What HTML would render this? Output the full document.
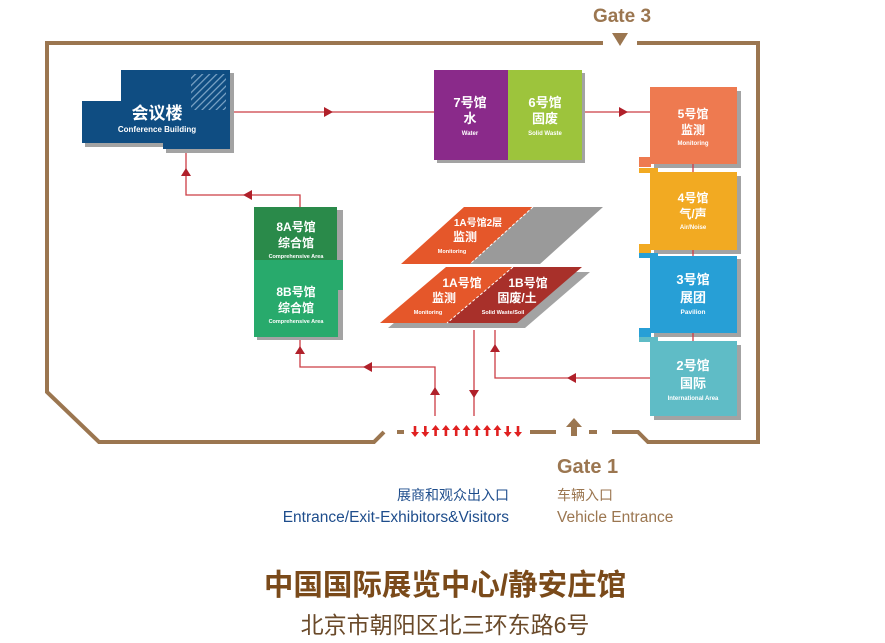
<!DOCTYPE html>
<html><head><meta charset="utf-8"><style>
html,body{margin:0;padding:0;background:#fff}
svg{display:block}
text{font-family:"Liberation Sans","Noto Sans CJK SC",sans-serif}
.w{fill:#fff;font-weight:bold;text-anchor:middle}
</style></head><body>
<svg width="885" height="643" viewBox="0 0 885 643" xmlns="http://www.w3.org/2000/svg">
<defs>
<pattern id="h" width="5" height="5" patternUnits="userSpaceOnUse" patternTransform="rotate(45)">
<rect width="1.2" height="5" fill="#7fa6c8"/></pattern>
<polygon id="up" points="0,-6 4,-1 1.3,-1 1.3,5 -1.3,5 -1.3,-1 -4,-1" fill="#e02020"/>
<polygon id="dn" points="0,6 4,1 1.3,1 1.3,-5 -1.3,-5 -1.3,1 -4,1" fill="#e02020"/>
</defs>
<g fill="none" stroke="#9b7650" stroke-width="4">
<polyline points="603,43 47,43 47,392 99,442 374,442 384,432"/>
<polyline points="637,43 758,43 758,442 648,442 638,432 612,432"/>
<line x1="530" y1="432" x2="556" y2="432"/>
<line x1="589" y1="432" x2="597" y2="432"/>
<line x1="397" y1="432" x2="404" y2="432"/>
</g>
<polygon points="612,33 628,33 620,46" fill="#9b7650"/>
<polygon points="574,418 566,427 571,427 571,436 577,436 577,427 582,427" fill="#9b7650"/>
<text x="622" y="22" font-size="19" fill="#9b7650" text-anchor="middle" font-weight="bold">Gate 3</text>
<use href="#dn" x="415" y="431"/>
<use href="#dn" x="425.3" y="431"/>
<use href="#up" x="435.6" y="431"/>
<use href="#up" x="445.9" y="431"/>
<use href="#up" x="456.2" y="431"/>
<use href="#up" x="466.5" y="431"/>
<use href="#up" x="476.8" y="431"/>
<use href="#up" x="487.1" y="431"/>
<use href="#up" x="497.4" y="431"/>
<use href="#dn" x="507.7" y="431"/>
<use href="#dn" x="518" y="431"/>
<g stroke="#cc3d45" stroke-width="1.3" fill="none">
<line x1="233" y1="112" x2="434" y2="112"/>
<line x1="585" y1="112" x2="650" y2="112"/>
<polyline points="300,207 300,195 186,195 186,152"/>
<polyline points="300,339 300,367 435,367 435,416"/>
<line x1="474" y1="330" x2="474" y2="416"/>
<polyline points="650,378 495,378 495,330"/>
</g>
<g fill="#b0202a">
<polygon points="324,107 324,117 333,112"/>
<polygon points="619,107 619,117 628,112"/>
<polygon points="243,195 252,190 252,200"/>
<polygon points="186,168 181,176 191,176"/>
<polygon points="300,346 295,354 305,354"/>
<polygon points="363,367 372,362 372,372"/>
<polygon points="435,387 430,395 440,395"/>
<polygon points="474,398 469,390 479,390"/>
<polygon points="567,378 576,373 576,383"/>
<polygon points="495,344 490,352 500,352"/>
</g>
<polygon points="124,73 234,73 234,153 166,153 166,147 85,147 85,104 124,104" fill="#a3a3a3"/>
<polygon points="121,70 230,70 230,149 163,149 163,143 82,143 82,101 121,101" fill="#0f4d82"/>
<rect x="191" y="74" width="35" height="36" fill="url(#h)"/>
<text x="157" y="119" font-size="17" class="w">会议楼</text>
<text x="157" y="132" font-size="8" class="w">Conference Building</text>
<rect x="437" y="73" width="148" height="90" fill="#a3a3a3"/>
<rect x="434" y="70" width="74" height="90" fill="#8a2a8a"/>
<rect x="508" y="70" width="74" height="90" fill="#9dc43c"/>
<text x="470" y="107" font-size="13" class="w">7号馆</text>
<text x="470" y="123" font-size="13" class="w">水</text>
<text x="470" y="135" font-size="6" class="w">Water</text>
<text x="545" y="107" font-size="13" class="w">6号馆</text>
<text x="545" y="123" font-size="13" class="w">固废</text>
<text x="545" y="135" font-size="6" class="w">Solid Waste</text>
<g fill="#a3a3a3">
<rect x="654" y="91" width="87" height="77"/>
<rect x="654" y="176" width="87" height="78"/>
<rect x="654" y="259" width="87" height="78"/>
<rect x="654" y="345" width="87" height="75"/>
</g>
<line x1="693" y1="160" x2="693" y2="345" stroke="#cc3d45" stroke-width="1.3"/>
<rect x="650" y="87" width="87" height="77" fill="#ee7a50"/>
<rect x="639" y="157" width="12" height="10" fill="#ee7a50"/>
<rect x="650" y="172" width="87" height="78" fill="#f2aa22"/>
<rect x="639" y="168" width="19" height="5" fill="#f2aa22"/>
<rect x="639" y="244" width="12" height="9" fill="#f2aa22"/>
<rect x="650" y="256" width="87" height="77" fill="#279fd6"/>
<rect x="639" y="253" width="19" height="5" fill="#279fd6"/>
<rect x="639" y="328" width="12" height="9" fill="#279fd6"/>
<rect x="650" y="341" width="87" height="75" fill="#5fbcc6"/>
<rect x="639" y="337" width="19" height="5" fill="#5fbcc6"/>
<text x="693" y="118" font-size="12" class="w">5号馆</text>
<text x="693" y="134" font-size="12" class="w">监测</text>
<text x="693" y="145" font-size="6" class="w">Monitoring</text>
<text x="693" y="202" font-size="12" class="w">4号馆</text>
<text x="693" y="218" font-size="12" class="w">气/声</text>
<text x="693" y="229" font-size="6" class="w">Air/Noise</text>
<text x="693" y="284" font-size="13" class="w">3号馆</text>
<text x="693" y="302" font-size="13" class="w">展团</text>
<text x="693" y="314" font-size="6.5" class="w">Pavilion</text>
<text x="693" y="370" font-size="13" class="w">2号馆</text>
<text x="693" y="388" font-size="13" class="w">国际</text>
<text x="693" y="400" font-size="6" class="w">International Area</text>
<rect x="257" y="210" width="86" height="130" fill="#a3a3a3"/>
<rect x="254" y="207" width="83" height="53" fill="#2a8a4a"/>
<rect x="254" y="260" width="84" height="77" fill="#28aa6c"/>
<rect x="337" y="260" width="6" height="30" fill="#28aa6c"/>
<text x="296" y="231" font-size="12" class="w">8A号馆</text>
<text x="296" y="247" font-size="12" class="w">综合馆</text>
<text x="296" y="258" font-size="5.5" class="w">Comprehensive Area</text>
<text x="296" y="296" font-size="12" class="w">8B号馆</text>
<text x="296" y="312" font-size="12" class="w">综合馆</text>
<text x="296" y="323" font-size="5.5" class="w">Comprehensive Area</text>
<polygon points="470,264 533,207 603,207 540,264" fill="#9a9a9a"/>
<polygon points="401,264 464,207 533,207 470,264" fill="#e5572a"/>
<line x1="533" y1="207" x2="470" y2="264" stroke="#fff" stroke-width="1" stroke-dasharray="3,2"/>
<polygon points="388,328 454,272 590,272 525,328" fill="#a3a3a3"/>
<polygon points="380,323 446,267 513,267 447,323" fill="#e5572a"/>
<polygon points="447,323 513,267 582,267 517,323" fill="#a8302a"/>
<line x1="513" y1="267" x2="447" y2="323" stroke="#fff" stroke-width="1" stroke-dasharray="3,2"/>
<text x="478" y="226" font-size="10" class="w">1A号馆2层</text>
<text x="465" y="241" font-size="12" class="w">监测</text>
<text x="452" y="253" font-size="5.5" class="w">Monitoring</text>
<text x="462" y="287" font-size="12" class="w">1A号馆</text>
<text x="444" y="302" font-size="12" class="w">监测</text>
<text x="428" y="314" font-size="5.5" class="w">Monitoring</text>
<text x="528" y="287" font-size="12" class="w">1B号馆</text>
<text x="517" y="302" font-size="12" class="w">固废/土</text>
<text x="503" y="314" font-size="5.5" class="w">Solid Waste/Soil</text>
<text x="557" y="473" font-size="20" fill="#9b7650" font-weight="bold">Gate 1</text>
<text x="509" y="500" font-size="14" fill="#1e4d8c" text-anchor="end">展商和观众出入口</text>
<text x="509" y="522" font-size="15.5" fill="#1e4d8c" text-anchor="end">Entrance/Exit-Exhibitors&amp;Visitors</text>
<text x="557" y="500" font-size="14" fill="#9b7650">车辆入口</text>
<text x="557" y="522" font-size="15.5" fill="#9b7650">Vehicle Entrance</text>
<text x="445" y="595" font-size="29.5" fill="#7a4a1a" font-weight="bold" text-anchor="middle">中国国际展览中心/静安庄馆</text>
<text x="445" y="633" font-size="23" fill="#6a4a2a" text-anchor="middle">北京市朝阳区北三环东路6号</text>
</svg>
</body></html>
